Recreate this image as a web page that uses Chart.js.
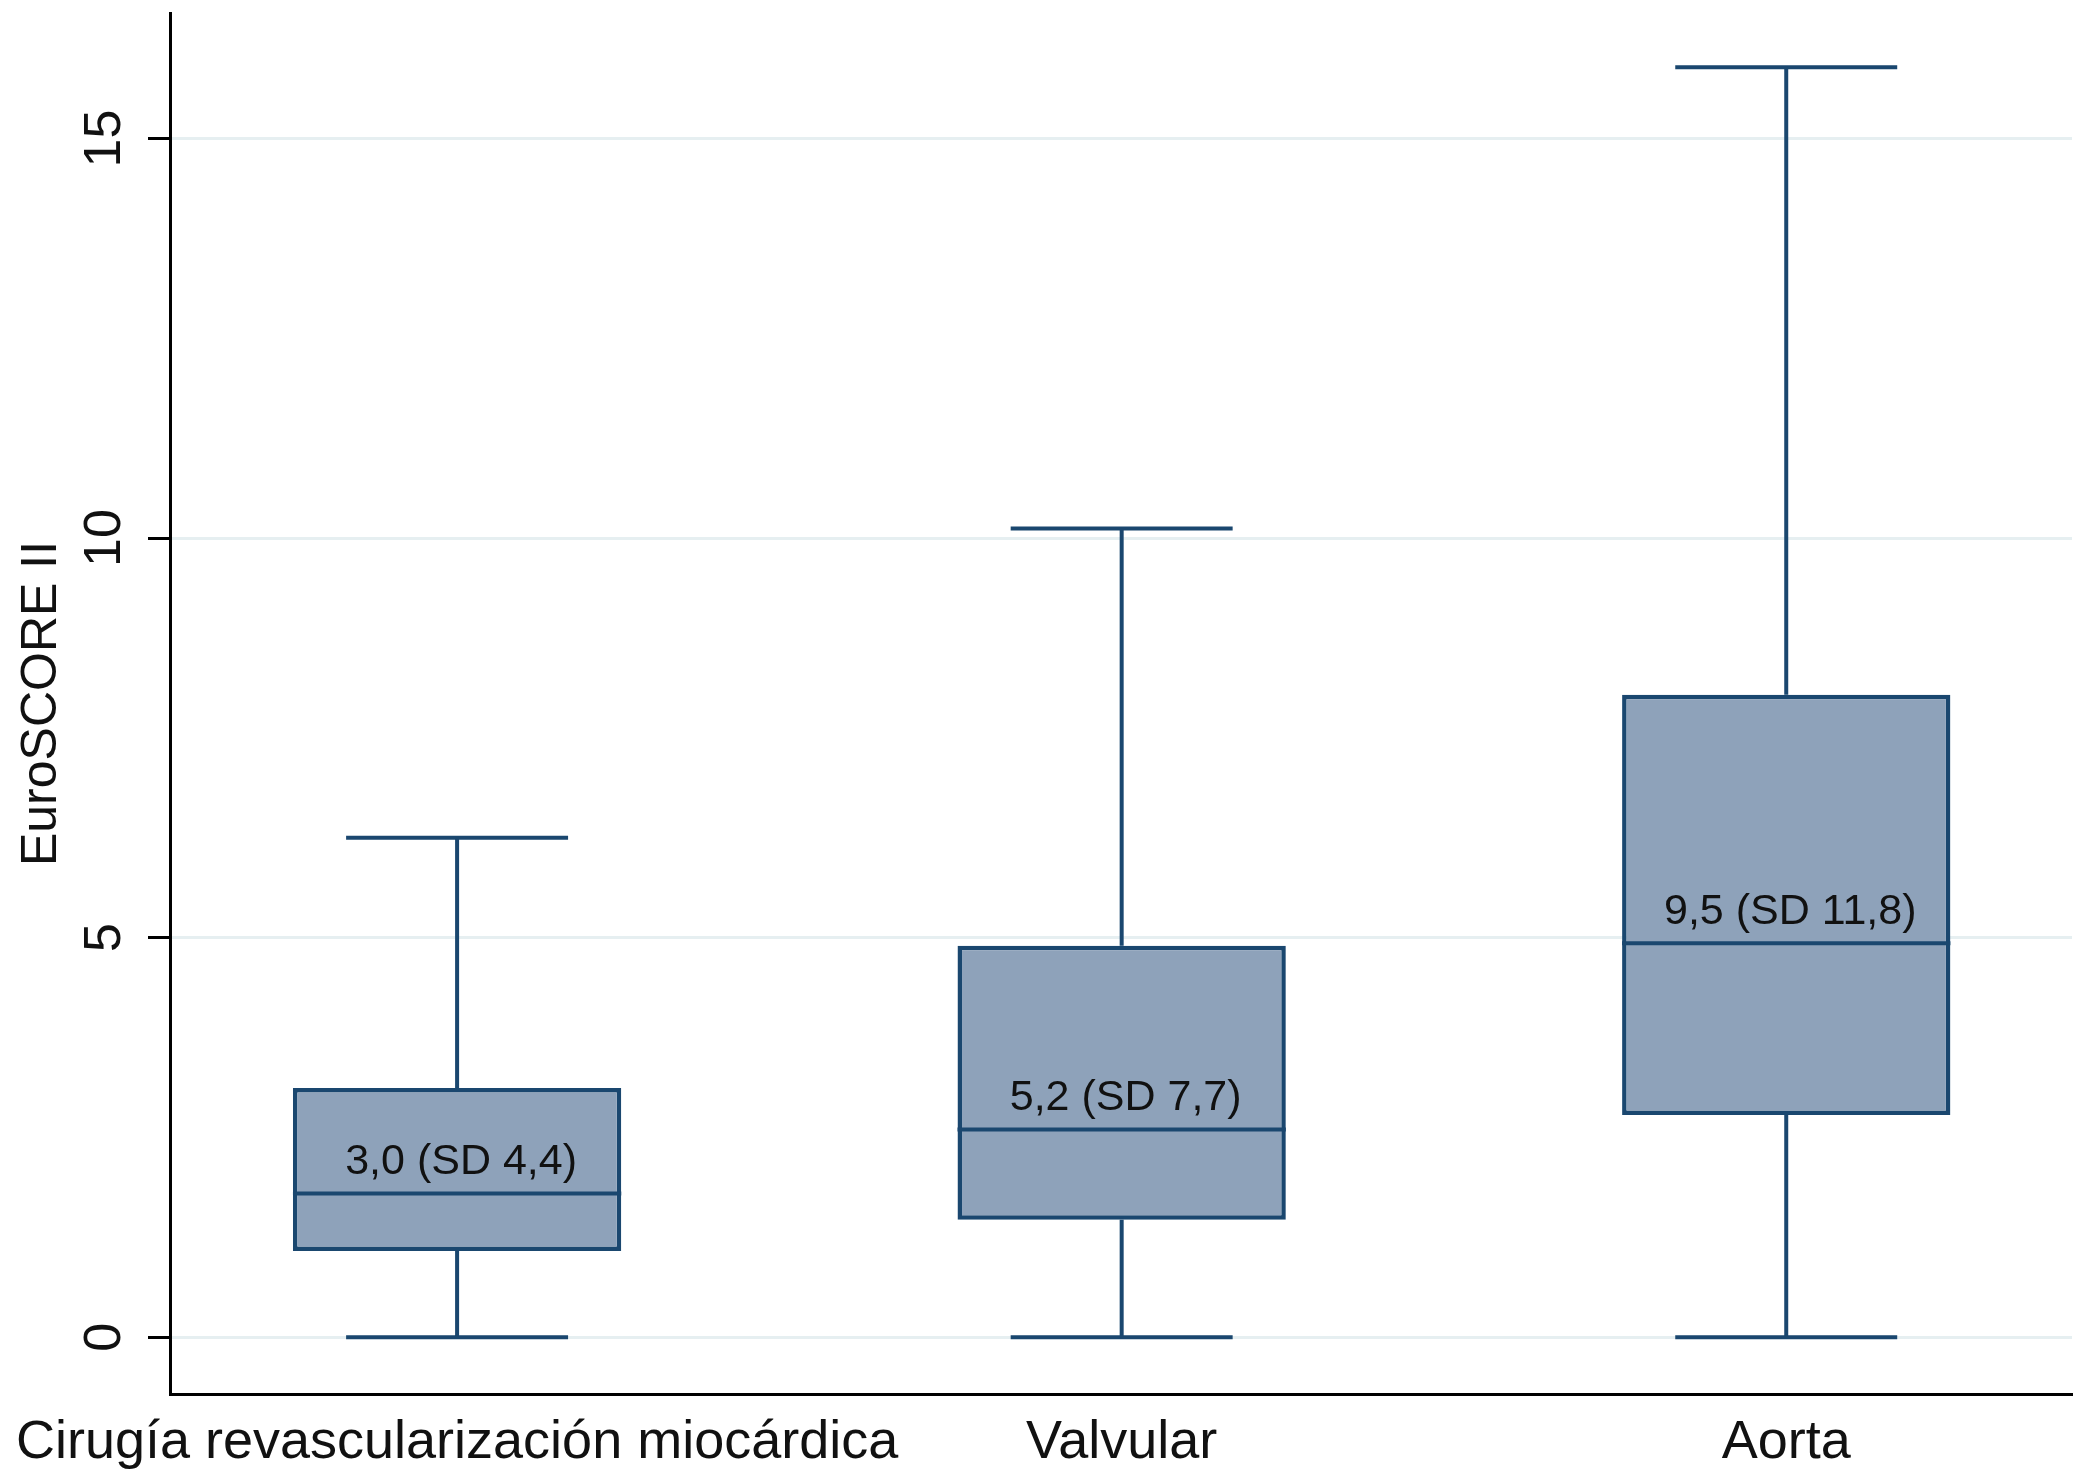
<!DOCTYPE html>
<html>
<head>
<meta charset="utf-8">
<script src="https://cdn.jsdelivr.net/npm/chart.js@4.4.1/dist/chart.umd.min.js"></script>
<style>
  html, body { margin: 0; padding: 0; background: #fff; }
  #wrap { width: 2083px; height: 1478px; }
</style>
</head>
<body>
<div id="wrap"><canvas id="chart"></canvas></div>
<script>
/* ===================== DATA ===================== */
const categories = ["Cirugía revascularización miocárdica", "Valvular", "Aorta"];
const whiskerLow = [0, 0, 0];
const q1 = [1.08, 1.47, 2.78];
const median = [1.80, 2.60, 4.93];
const q3 = [3.12, 4.90, 8.04];
const whiskerHigh = [6.25, 10.12, 15.89];
const boxLabels = ["3,0 (SD 4,4)", "5,2 (SD 7,7)", "9,5 (SD 11,8)"];
const yTicks = [0, 5, 10, 15];

/* ===================== STYLE ===================== */
const NAVY = "#1a476f";
const FILL = "#8ea2ba";
const FONT = "'Liberation Sans', Arial, Helvetica, sans-serif";
const capHalf = 0.167; // half cap width, in category units

/* ===================== BOX PARTS PLUGIN ===================== */
const boxParts = {
  id: "boxParts",
  beforeDatasetsDraw(chart) {
    const { ctx, scales: { x, y } } = chart;
    ctx.save();
    ctx.strokeStyle = NAVY;
    ctx.lineWidth = 4;
    categories.forEach((c, i) => {
      const px = x.getPixelForValue(i);
      ctx.beginPath();
      ctx.moveTo(px, y.getPixelForValue(q3[i]));
      ctx.lineTo(px, y.getPixelForValue(whiskerHigh[i]));
      ctx.moveTo(px, y.getPixelForValue(q1[i]));
      ctx.lineTo(px, y.getPixelForValue(whiskerLow[i]));
      // caps
      ctx.moveTo(x.getPixelForValue(i - capHalf), y.getPixelForValue(whiskerHigh[i]));
      ctx.lineTo(x.getPixelForValue(i + capHalf), y.getPixelForValue(whiskerHigh[i]));
      ctx.moveTo(x.getPixelForValue(i - capHalf), y.getPixelForValue(whiskerLow[i]));
      ctx.lineTo(x.getPixelForValue(i + capHalf), y.getPixelForValue(whiskerLow[i]));
      ctx.stroke();
    });
    ctx.restore();
  },
  afterDatasetsDraw(chart) {
    const { ctx, scales: { y } } = chart;
    const bars = chart.getDatasetMeta(0).data;
    ctx.save();
    bars.forEach((el, i) => {
      const my = y.getPixelForValue(median[i]);
      ctx.strokeStyle = NAVY;
      ctx.lineWidth = 4;
      ctx.beginPath();
      ctx.moveTo(el.x - el.width / 2, my);
      ctx.lineTo(el.x + el.width / 2, my);
      ctx.stroke();

      ctx.fillStyle = "#111";
      ctx.font = "43px " + FONT;
      ctx.textAlign = "center";
      ctx.textBaseline = "alphabetic";
      ctx.fillText(boxLabels[i], el.x + 4, my - 19);
    });

    // vertical y tick labels
    ctx.fillStyle = "#111";
    ctx.font = "52px " + FONT;
    ctx.textAlign = "center";
    ctx.textBaseline = "middle";
    yTicks.forEach(v => {
      ctx.save();
      ctx.translate(106, y.getPixelForValue(v));
      ctx.rotate(-Math.PI / 2);
      ctx.fillText(String(v), 0, 0);
      ctx.restore();
    });
    ctx.restore();
  }
};

/* ===================== CHART ===================== */
new Chart(document.getElementById("chart"), {
  type: "bar",
  data: {
    datasets: [{
      data: categories.map((c, i) => ({ x: i, y: [q1[i], q3[i]] })),
      backgroundColor: FILL,
      borderColor: NAVY,
      borderWidth: 4.5,
      borderSkipped: false,
      categoryPercentage: 1,
      barPercentage: 0.494
    }]
  },
  options: {
    responsive: true,
    maintainAspectRatio: false,
    animation: false,
    layout: { padding: { top: 13, right: 11, left: 0, bottom: 0 } },
    plugins: {
      legend: { display: false },
      tooltip: { enabled: false }
    },
    scales: {
      x: {
        type: "linear",
        offset: false,
        min: -0.432,
        max: 2.43,
        afterBuildTicks: (scale) => {
          scale.ticks = categories.map((c, i) => ({ value: i }));
        },
        afterFit: (scale) => {
          scale.height = 84;
          // long first label may hang over the y axis area
          scale.paddingLeft = 0;
          scale.paddingRight = 0;
        },
        grid: { display: false, drawTicks: false, offset: false },
        border: { display: true, color: "#000", width: 3 },
        ticks: {
          padding: 17,
          color: "#111",
          maxRotation: 0,
          autoSkip: false,
          font: { family: FONT, size: 54 },
          callback: (v) => categories[v]
        }
      },
      y: {
        min: -0.71,
        max: 16.57,
        afterBuildTicks: (scale) => {
          scale.ticks = yTicks.map(v => ({ value: v }));
        },
        afterFit: (scale) => { scale.width = 170; },
        grid: {
          color: "#e6eff1",
          lineWidth: 3,
          drawTicks: true,
          tickLength: 22,
          tickColor: "#000",
          tickWidth: 3
        },
        border: { display: true, color: "#000", width: 3 },
        ticks: { display: false },
        title: {
          display: true,
          text: "EuroSCORE II",
          color: "#111",
          font: { family: FONT, size: 50 },
          padding: { top: 12, bottom: 0 }
        }
      }
    }
  },
  plugins: [boxParts]
});
</script>
</body>
</html>
